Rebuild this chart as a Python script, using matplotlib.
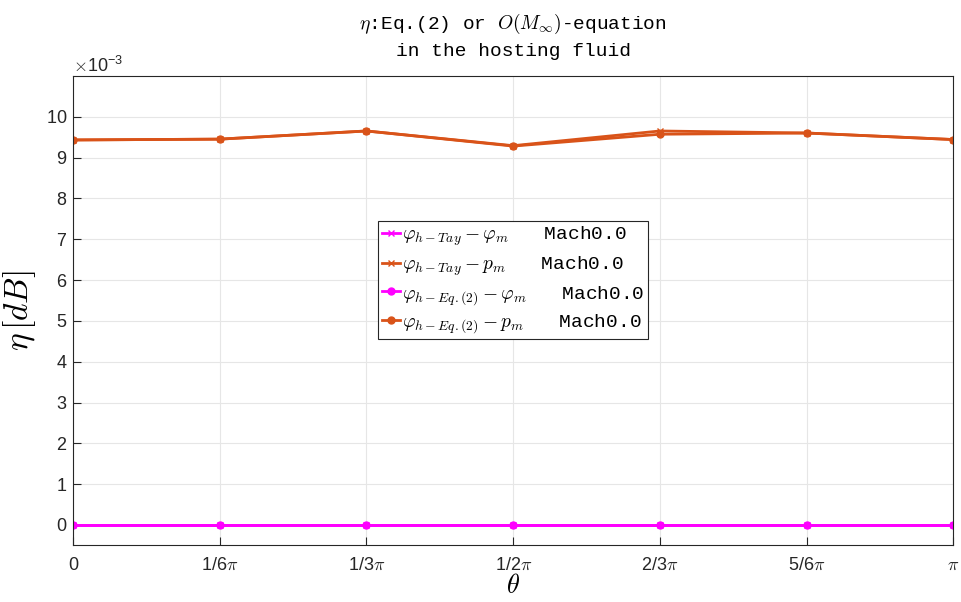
import matplotlib.pyplot as plt
import numpy as np
from matplotlib.ticker import ScalarFormatter

plt.rcParams['mathtext.fontset'] = 'cm'
plt.rcParams['font.family'] = ['Liberation Sans', 'DejaVu Sans']

# Data
theta = np.array([0, 1/6, 1/3, 1/2, 2/3, 5/6, 1]) * np.pi
theta_labels = ['0', r'1/6$\pi$', r'1/3$\pi$', r'1/2$\pi$', r'2/3$\pi$', r'5/6$\pi$', r'$\pi$']
tay_phi = np.array([0, 0, 0, 0, 0, 0, 0]) * 1e-3
tay_p = np.array([9.43, 9.45, 9.65, 9.29, 9.65, 9.60, 9.44]) * 1e-3
eq2_phi = np.array([0, 0, 0, 0, 0, 0, 0]) * 1e-3
eq2_p = np.array([9.43, 9.45, 9.65, 9.28, 9.57, 9.60, 9.44]) * 1e-3

orange = '#D95319'
magenta = '#FF00FF'
mono = 'Liberation Mono'


class MilliFormatter(ScalarFormatter):
    # force the x10^-3 exponent like the MATLAB axis
    def _set_order_of_magnitude(self):
        self.orderOfMagnitude = -3


fig = plt.figure(figsize=(9.61, 6.02), dpi=100)
ax = fig.add_axes([0.076, 0.094, 0.916, 0.78])

ax.plot(theta, tay_phi, '-x', color=magenta, lw=2, ms=5,
        label=r'$\varphi_{h-Tay} - \varphi_m$   Mach0.0')
ax.plot(theta, tay_p, '-x', color=orange, lw=2, ms=5,
        label=r'$\varphi_{h-Tay} - p_m$   Mach0.0')
ax.plot(theta, eq2_phi, '-o', color=magenta, lw=2, ms=5,
        label=r'$\varphi_{h-Eq.(2)} - \varphi_m$   Mach0.0')
ax.plot(theta, eq2_p, '-o', color=orange, lw=2, ms=5,
        label=r'$\varphi_{h-Eq.(2)} - p_m$   Mach0.0')

ax.set_xlim(0, np.pi)
ax.set_ylim(-0.5e-3, 11e-3)
ax.set_xticks(theta)
ax.set_xticklabels(theta_labels)
ax.set_yticks(np.arange(0, 11) * 1e-3)

fmt = MilliFormatter(useMathText=True)
ax.yaxis.set_major_formatter(fmt)
ax.yaxis.get_offset_text().set_fontsize(13)

ax.tick_params(direction='in', labelsize=13, length=6, colors='#262626')
ax.tick_params(axis='x', pad=8)
ax.tick_params(axis='y', pad=4)
ax.grid(True, color='#e6e6e6', lw=0.8)
ax.set_axisbelow(True)
for s in ax.spines.values():
    s.set_color('#262626')
    s.set_linewidth(0.8)

ax.set_xlabel(r'$\theta$', fontsize=19, labelpad=0)
ax.set_ylabel(r'$\eta\,[dB]$', fontsize=24, labelpad=6)
ax.set_title(r'$\eta$:Eq.(2) or $O(M_\infty)$-equation' + '\n' + 'in the hosting fluid',
             fontsize=14, family=mono, linespacing=1.6, pad=14)

leg = ax.legend(loc='center', bbox_to_anchor=(0.5, 0.565), prop={'family': mono, 'size': 14},
                fancybox=False, edgecolor='#262626', framealpha=1,
                handlelength=0.9, handletextpad=0.1, borderpad=0.2, labelspacing=0.3,
                borderaxespad=0)
leg.get_frame().set_linewidth(0.8)

fig.savefig('out.png', dpi=100)
